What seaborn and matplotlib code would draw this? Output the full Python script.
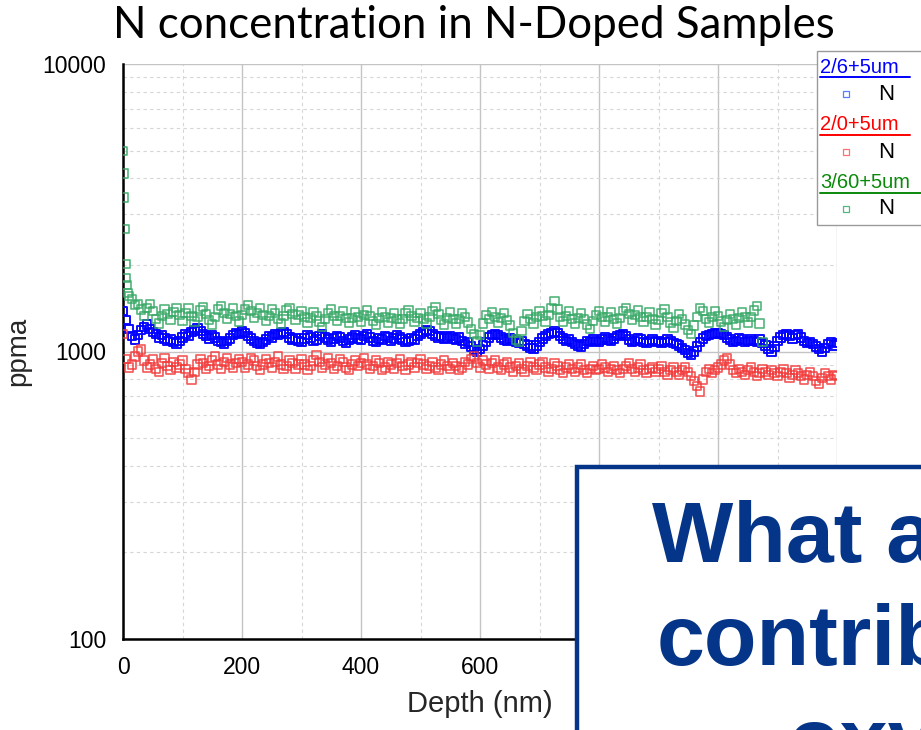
import numpy as np
import pandas as pd
import matplotlib
matplotlib.use("Agg")
import matplotlib.pyplot as plt
import seaborn as sns
from matplotlib.ticker import MultipleLocator, LogLocator, NullFormatter, FixedLocator, FixedFormatter
from matplotlib.patches import Rectangle
from matplotlib.lines import Line2D

# ---------------- data ----------------
series_names = ["2/6+5um", "2/0+5um", "3/60+5um"]
legend_item = "N"

blue_ppma = [
    1380, 1290, 1200, 1130, 1100, 1140, 1190, 1220, 1240, 1200, 1170, 1150, 1120, 1140, 1110, 1090, 1100, 1080, 1066, 1090,
    1120, 1150, 1130, 1170, 1190, 1210, 1180, 1150, 1130, 1110, 1140, 1120, 1090, 1080, 1066, 1090, 1110, 1140, 1160, 1150,
    1175, 1160, 1130, 1110, 1090, 1070, 1066, 1080, 1100, 1130, 1120, 1150, 1140, 1160, 1170, 1150, 1120, 1100, 1110, 1090,
    1080, 1110, 1140, 1120, 1090, 1100, 1130, 1150, 1120, 1100, 1080, 1110, 1130, 1120, 1090, 1070, 1100, 1120, 1140, 1110,
    1100, 1130, 1150, 1120, 1090, 1080, 1110, 1100, 1130, 1120, 1090, 1110, 1140, 1120, 1100, 1080, 1090, 1110, 1100, 1130,
    1150, 1170, 1190, 1180, 1150, 1130, 1120, 1130, 1110, 1120, 1130, 1110, 1100, 1120, 1090, 1060, 1080, 1040, 1010, 1000,
    1020, 1050, 1080, 1120, 1140, 1150, 1140, 1120, 1100, 1090, 1110, 1100, 1080, 1070, 1090, 1060, 1050, 1030, 1025, 1050,
    1080, 1110, 1130, 1150, 1160, 1175, 1160, 1130, 1110, 1090, 1100, 1080, 1060, 1050, 1040, 1060, 1090, 1080, 1100, 1090,
    1080, 1100, 1120, 1100, 1090, 1110, 1130, 1140, 1150, 1130, 1100, 1080, 1090, 1110, 1100, 1080, 1070, 1090, 1100, 1080,
    1090, 1070, 1080, 1100, 1090, 1070, 1060, 1050, 1030, 1010, 990, 976, 1000, 1040, 1080, 1110, 1130, 1140, 1150, 1156,
    1160, 1150, 1140, 1120, 1100, 1080, 1090, 1110, 1100, 1080, 1090, 1100, 1090, 1080, 1100, 1070, 1050, 1020, 1000, 1040,
    1090, 1120, 1140, 1150, 1130, 1110, 1140, 1150, 1120, 1090, 1070, 1080, 1060, 1040, 1020, 1000, 1030, 1060, 1080, 1050,
    1070,
]
blue_depth = list(range(0, 1201, 5))

red_ppma = [
    1150, 940, 880, 900, 960, 1000, 1016, 930, 880, 900, 940, 870, 850, 910, 950, 890, 860, 920, 880, 900,
    930, 870, 840, 800, 850, 900, 940, 910, 870, 890, 930, 960, 900, 870, 920, 950, 900, 880, 910, 940,
    920, 880, 900, 950, 930, 890, 860, 900, 940, 910, 880, 920, 960, 900, 870, 890, 930, 910, 870, 900,
    940, 900, 860, 890, 930, 970, 920, 880, 900, 950, 910, 870, 890, 940, 920, 880, 860, 900, 930, 890,
    910, 950, 900, 870, 890, 930, 910, 860, 880, 920, 900, 870, 910, 940, 890, 860, 900, 920, 880, 910,
    940, 900, 870, 890, 920, 880, 860, 900, 930, 890, 870, 910, 890, 860, 880, 920, 900, 940, 960, 910,
    880, 930, 900, 870, 910, 930, 880, 860, 900, 920, 880, 850, 890, 910, 870, 850, 890, 920, 880, 860,
    900, 920, 880, 850, 870, 910, 890, 860, 840, 880, 900, 870, 850, 880, 900, 860, 840, 870, 890, 860,
    870, 900, 880, 850, 870, 890, 860, 840, 870, 890, 910, 870, 850, 880, 900, 860, 840, 870, 880, 850,
    870, 890, 850, 830, 860, 880, 850, 830, 860, 880, 850, 820, 790, 760, 725, 800, 850, 870, 840, 860,
    880, 900, 930, 945, 900, 860, 840, 870, 850, 830, 860, 880, 850, 820, 840, 870, 850, 830, 860, 840,
    820, 850, 870, 840, 810, 830, 860, 840, 820, 800, 830, 850, 820, 790, 770, 810, 840, 820, 800, 830,
    820,
]
red_depth = list(range(0, 1201, 5))

green_surface_depth = [0, 1, 2, 3, 4, 5, 6, 8, 10]
green_surface_ppma = [4970, 4160, 3430, 2670, 2010, 1800, 1700, 1600, 1560]
green_bulk_ppma = [
    1520, 1450, 1460, 1400, 1330, 1420, 1460, 1380, 1300, 1250, 1330, 1400, 1350, 1290, 1370, 1420, 1340,
    1280, 1360, 1410, 1330, 1270, 1320, 1390, 1430, 1350, 1290, 1240, 1320, 1400, 1440, 1360, 1300, 1350, 1410, 1330, 1270,
    1340, 1400, 1450, 1380, 1310, 1360, 1420, 1340, 1280, 1330, 1400, 1360, 1300, 1250, 1330, 1390, 1420, 1350, 1290, 1340,
    1380, 1320, 1260, 1310, 1370, 1330, 1270, 1220, 1300, 1360, 1400, 1330, 1280, 1330, 1380, 1310, 1260, 1310, 1370, 1320,
    1270, 1340, 1390, 1330, 1280, 1240, 1310, 1370, 1320, 1260, 1310, 1360, 1300, 1250, 1300, 1360, 1390, 1330, 1270, 1310,
    1360, 1300, 1250, 1320, 1380, 1430, 1350, 1290, 1240, 1310, 1370, 1300, 1250, 1300, 1360, 1320, 1260, 1200, 1150, 1084,
    1140, 1250, 1340, 1300, 1370, 1320, 1260, 1310, 1360, 1290, 1230, 1160, 1100, 1084, 1180, 1280, 1350, 1300, 1250, 1320,
    1380, 1330, 1270, 1340, 1420, 1495, 1400, 1320, 1270, 1330, 1380, 1300, 1250, 1310, 1360, 1300, 1240, 1200, 1280, 1340,
    1380, 1320, 1270, 1320, 1370, 1300, 1250, 1310, 1380, 1420, 1350, 1290, 1340, 1390, 1320, 1270, 1320, 1370, 1300, 1240,
    1290, 1360, 1400, 1320, 1260, 1210, 1280, 1350, 1300, 1240, 1190, 1150, 1230, 1320, 1420, 1380, 1300, 1260, 1320, 1380,
    1330, 1270, 1220, 1290, 1350, 1300, 1240, 1310, 1370, 1320, 1260, 1320, 1390, 1440, 1250, 1080,
]
green_bulk_depth = list(range(15, 1076, 5))

x_ticks = [0, 200, 400, 600, 800, 1000, 1200]
x_tick_labels = ["0", "200", "400", "600", "", "", ""]   # 800+ hidden behind the callout box
y_ticks = [100, 1000, 10000]
y_tick_labels = ["100", "1000", "10000"]

title = "N concentration in N-Doped Samples"
x_label = "Depth (nm)"
y_label = "ppma"
overlay_lines = ["What are", "contributions", "oxygen"]

assert len(blue_ppma) == len(blue_depth)
assert len(red_ppma) == len(red_depth)
assert len(green_bulk_ppma) == len(green_bulk_depth)

df = pd.concat([
    pd.DataFrame({"depth": blue_depth, "ppma": blue_ppma, "sample": series_names[0]}),
    pd.DataFrame({"depth": red_depth, "ppma": red_ppma, "sample": series_names[1]}),
    pd.DataFrame({"depth": green_surface_depth + green_bulk_depth,
                  "ppma": green_surface_ppma + green_bulk_ppma, "sample": series_names[2]}),
], ignore_index=True)

# ---------------- style ----------------
sns.set_style("white")
plt.rcParams["font.family"] = ["Liberation Sans", "DejaVu Sans"]

W, H = 921, 730
fig = plt.figure(figsize=(W / 100, H / 100), dpi=100, facecolor="white")

def fx(x):
    return x / W

def fy(y):
    return 1 - y / H

ax = fig.add_axes([fx(123), fy(639), fx(837) - fx(123), fy(64) - fy(639)])

point_style = {
    series_names[0]: ("#0000ff", 0.95, 1.4),
    series_names[1]: ("#f23a3a", 0.85, 1.2),
    series_names[2]: ("#35a865", 0.85, 1.2),
}
for name in series_names:
    sub = df[df["sample"] == name]
    c, a, lw = point_style[name]
    sns.scatterplot(data=sub, x="depth", y="ppma", marker="s", s=36,
                    facecolor="none", edgecolor=c, linewidth=lw,
                    alpha=a, ax=ax, legend=False, zorder=3)

ax.set_yscale("log")
ax.set_xlim(0, 1200)
ax.set_ylim(100, 10000)
ax.xaxis.set_major_locator(FixedLocator(x_ticks))
ax.xaxis.set_major_formatter(FixedFormatter(x_tick_labels))
ax.xaxis.set_minor_locator(MultipleLocator(100))
ax.yaxis.set_major_locator(FixedLocator(y_ticks))
ax.yaxis.set_major_formatter(FixedFormatter(y_tick_labels))
ax.yaxis.set_minor_locator(LogLocator(base=10, subs=np.arange(2, 10)))
ax.yaxis.set_minor_formatter(NullFormatter())

ax.grid(which="major", color="#c4c4c4", lw=1.0, ls="-", zorder=0)
ax.grid(which="minor", color="#d6d6d6", lw=0.8, ls=(0, (3, 3)), zorder=0)
ax.set_axisbelow(True)

for s in ["top", "right"]:
    ax.spines[s].set_visible(False)
for s in ["left", "bottom"]:
    ax.spines[s].set_color("black")
    ax.spines[s].set_linewidth(1.8)

ax.tick_params(axis="both", which="major", direction="out", length=7, width=1.5,
               color="black", labelsize=16.5, labelcolor="black", pad=5)
ax.tick_params(axis="both", which="minor", direction="out", length=4, width=1.5, color="black")

ax.set_xlabel(x_label, fontsize=21, labelpad=8)
ax.set_ylabel(y_label, fontsize=20, labelpad=8)

# ---------------- title (fit to the reference width) ----------------
t = fig.text(fx(474), fy(25), title, ha="center", va="center", fontsize=34,
             family=["Lato", "DejaVu Sans"], color="black")
fig.canvas.draw()
bb = t.get_window_extent()
t.set_fontsize(34 * 722 / bb.width)

# ---------------- legend box ----------------
fig.add_artist(Rectangle((fx(817), fy(225)), fx(940) - fx(817), fy(51) - fy(225),
                         transform=fig.transFigure, facecolor="white", edgecolor="#9a9a9a",
                         lw=1.0, zorder=4))
label_colors = ["#0000ff", "#ff0000", "#0a8a0a"]
marker_colors = ["#5a7dff", "#ff7070", "#50b880"]
label_base = [73, 130, 188]
under_y = [77, 135, 193]
under_x1 = [910, 910, 930]
marker_y = [94, 152, 209]
for i in range(3):
    fig.text(fx(820), fy(label_base[i]), series_names[i], color=label_colors[i],
             fontsize=14.5, ha="left", va="baseline", zorder=5)
    fig.add_artist(Line2D([fx(820), fx(under_x1[i])], [fy(under_y[i]), fy(under_y[i])],
                          transform=fig.transFigure, color=label_colors[i], lw=1.4, zorder=5))
    fig.add_artist(Line2D([fx(846)], [fy(marker_y[i])], transform=fig.transFigure,
                          marker="s", ms=4.5, mfc="none", mec=marker_colors[i], mew=0.9,
                          ls="none", zorder=5))
    fig.text(fx(886), fy(marker_y[i]), legend_item, color="black", fontsize=16,
             ha="center", va="center", zorder=5)

# ---------------- overlay callout box ----------------
navy = "#043589"
fig.add_artist(Rectangle((fx(577), fy(760)), fx(960) - fx(577), fy(467) - fy(760),
                         transform=fig.transFigure, facecolor="white", edgecolor=navy,
                         lw=3.2, zorder=6))
fig.text(fx(652), fy(562), overlay_lines[0], color=navy, fontsize=62, fontweight="bold",
         ha="left", va="baseline", zorder=7)
fig.text(fx(657), fy(665), overlay_lines[1], color=navy, fontsize=62, fontweight="bold",
         ha="left", va="baseline", zorder=7)
fig.text(fx(788), fy(768), overlay_lines[2], color=navy, fontsize=62, fontweight="bold",
         ha="left", va="baseline", zorder=7)

fig.savefig("out.png", dpi=100, facecolor="white")
